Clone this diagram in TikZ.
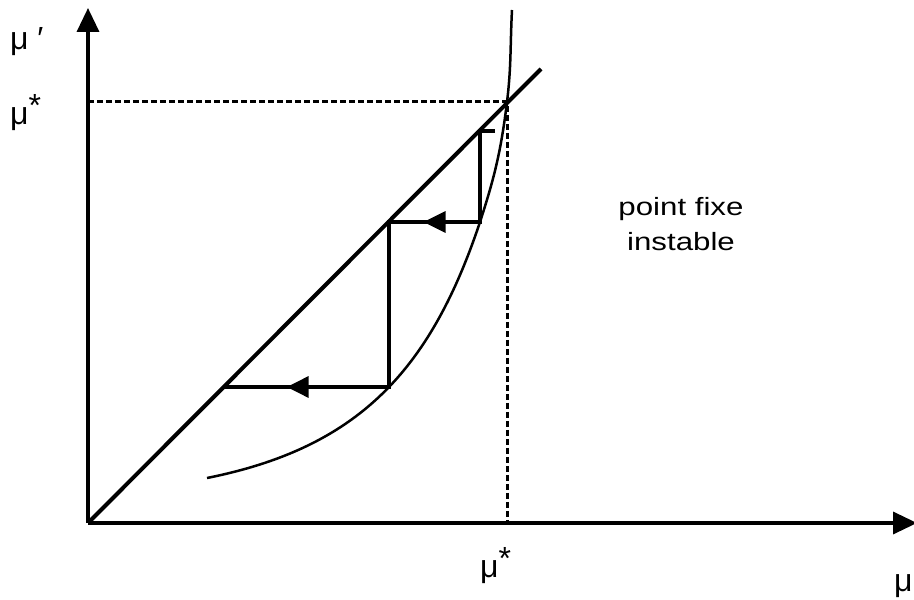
\documentclass[tikz,border=0pt]{standalone}
\usepackage{fontspec}
\setmainfont{Liberation Sans}
\usetikzlibrary{arrows.meta, positioning}

\begin{document}
\begin{tikzpicture}[
    x=1pt, y=1pt,
    axis/.style={line width=3.5pt, -{Triangle[length=24pt, width=22pt]}},
    diag/.style={line width=4pt},
    curve/.style={line width=2.5pt},
    stair/.style={line width=3.5pt},
    guide/.style={line width=3pt, dash pattern=on 6pt off 3pt},
    flow/.style={line width=3.5pt, -{Triangle[length=22pt, width=21pt]}},
    mulabel/.style={anchor=base west, inner sep=0pt, font=\fontsize{32}{34}\selectfont},
    note/.style={align=center, inner sep=0pt, xscale=1.25, font=\fontsize{25}{35}\selectfont},
]
\useasboundingbox (-88,-77) rectangle (826,523);

% ─── Points ───
\coordinate (o) at (0,0);
\coordinate (ytip) at (0,515);
\coordinate (xtip) at (829,0);
\coordinate (dend) at (453,454);
\coordinate (fp) at (419,421);
\coordinate (fpy) at (0,421);
\coordinate (fpx) at (419,0);
\coordinate (p0) at (119,45);
\coordinate (p1) at (424,513);

% ─── Staircase corners ───
\coordinate (s0) at (407,392);
\coordinate (d1) at (392,392);
\coordinate (c1) at (392,301);
\coordinate (d2) at (301,301);
\coordinate (c2) at (301,136);
\coordinate (d3) at (136,136);

% ─── Guides ───
\draw[guide] (fpy) -- (fp) -- (fpx);

% ─── Axes ───
\draw[axis] (o) -- (ytip);
\draw[axis] (o) -- (xtip);

% ─── Diagonal and map ───
\draw[diag] (o) -- (dend);
\draw[curve] (p0) .. controls (269,75) and (342,151) .. (c1)
    to[out=72, in=263] (fp) to[out=83, in=267] (p1);

% ─── Iterations ───
\draw[stair] (s0) -- (d1) -- (c1) -- (d2) -- (c2) -- (d3);
\path (c1) -- (d2) coordinate[pos=0.62] (m1);
\path (c2) -- (d3) coordinate[pos=0.62] (m2);
\draw[flow] (c1) -- (m1);
\draw[flow] (c2) -- (m2);

% ─── Labels ───
\node[mulabel] (muprime) at (-78,473) {μ ′};
\node[mulabel] (mustary) at (-78,398) {μ\raisebox{8pt}{*}};
\node[mulabel] (mustarx) at (392,-55) {μ\raisebox{8pt}{*}};
\node[mulabel] (mux) at (806,-69) {μ};
\node[note] (fixe) at (593,299) {point fixe\\instable};

\end{tikzpicture}
\end{document}
